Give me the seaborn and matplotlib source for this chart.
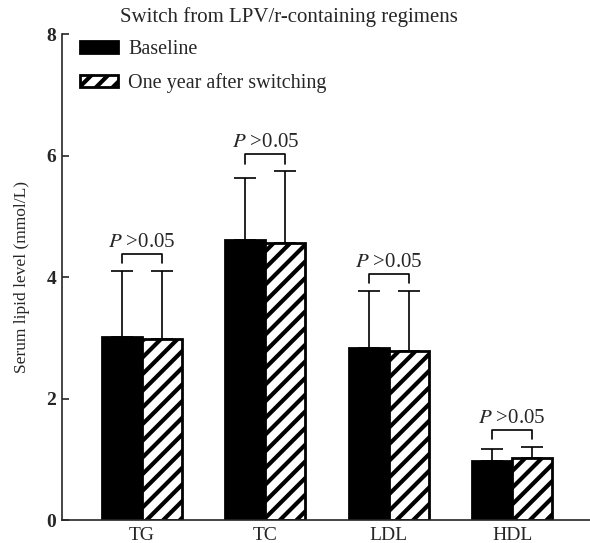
import numpy as np
import pandas as pd
import matplotlib
matplotlib.use("Agg")
import matplotlib.pyplot as plt
import seaborn as sns

# values
lipids = ["TG", "TC", "LDL", "HDL"]
groups = ["Baseline", "One year after switching"]
baseline_mean = [3.01, 4.61, 2.83, 0.97]
baseline_sd = [1.09, 1.02, 0.94, 0.20]
after_mean = [2.98, 4.56, 2.78, 1.02]
after_sd = [1.12, 1.18, 0.99, 0.18]
p_labels = ["0.05", "0.05", "0.05", "0.05"]

sns.set_style("ticks")
plt.rcParams['font.family'] = ['Liberation Serif', 'DejaVu Serif']
plt.rcParams['mathtext.fontset'] = 'stix'
plt.rcParams['hatch.linewidth'] = 3.0

df = pd.DataFrame({
    "Lipid": lipids * 2,
    "Group": [groups[0]] * 4 + [groups[1]] * 4,
    "Level": baseline_mean + after_mean,
})

fig = plt.figure(figsize=(5.9, 5.43), dpi=100)
ax = fig.add_axes([0.105, 0.042, 0.895, 0.895])

sns.barplot(data=df, x="Lipid", y="Level", hue="Group", hue_order=groups,
            palette=["black", "white"], errorbar=None, width=0.648,
            edgecolor="black", linewidth=2, legend=False, ax=ax)
bars = list(ax.containers)

# hatch the follow-up bars
for p in bars[1]:
    p.set_hatch("//")

# upward-only error bars
sds = [baseline_sd, after_sd]
means = [baseline_mean, after_mean]
centers = []
for k, cont in enumerate(bars):
    xs = [p.get_x() + p.get_width() / 2 for p in cont]
    ax.errorbar(xs, means[k], yerr=[np.zeros(4), sds[k]], fmt="none",
                ecolor="black", elinewidth=1.2, capsize=8, capthick=1.2, zorder=1)
    centers.append(xs)

# significance brackets
for i in range(4):
    x1, x2 = centers[0][i], centers[1][i]
    hi = max(baseline_mean[i] + baseline_sd[i], after_mean[i] + after_sd[i])
    yb = hi + 0.28
    ax.plot([x1, x1, x2, x2], [yb - 0.15, yb, yb, yb - 0.15], color="black", lw=1.2)
    ax.text((x1 + x2) / 2, yb + 0.04, r"$\mathit{P}$ >" + p_labels[i], ha="center",
            va="bottom", fontsize=15)

ax.set_xlim(-0.648, 3.63)
ax.set_ylim(0, 8)
ax.set_yticks([0, 2, 4, 6, 8])
ax.set_yticklabels(["0", "2", "4", "6", "8"], fontweight="bold", fontsize=14)
ax.tick_params(axis="y", direction="in", length=5, width=1.2, pad=4)
ax.tick_params(axis="x", length=0, labelsize=14, pad=5)
ax.set_xlabel("")
ax.set_ylabel("Serum lipid level (mmol/L)", fontsize=12.5, labelpad=12)
for s in ["top", "right"]:
    ax.spines[s].set_visible(False)
for s in ["left", "bottom"]:
    ax.spines[s].set_linewidth(1.2)

ax.legend(handles=bars, labels=groups, loc="upper left",
          bbox_to_anchor=(0.0, 1.025), frameon=False, fontsize=14.5,
          handlelength=1.9, handleheight=0.6, labelspacing=0.7, handletextpad=0.5)

fig.text(0.49, 0.968, "Switch from LPV/r-containing regimens", ha="center",
         va="center", fontsize=15)

fig.savefig("out.png", dpi=100)
